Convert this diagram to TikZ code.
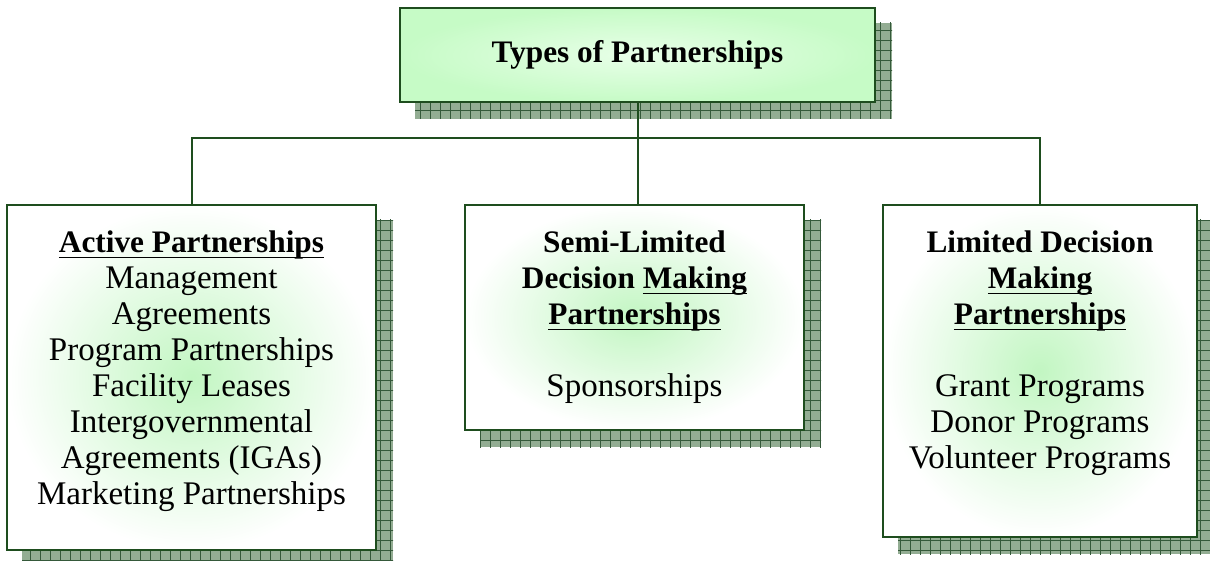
\documentclass[tikz,border=0pt]{standalone}
\usepackage{fontspec}
\setmainfont{Liberation Serif}
\usetikzlibrary{calc, positioning, backgrounds}

\definecolor{box-line}{HTML}{1E4D1E}
\definecolor{shade-fill}{HTML}{93AD93}
\definecolor{shade-grid}{HTML}{35593A}
\definecolor{mint}{HTML}{C2F6C2}
\definecolor{mint-top}{HTML}{C6FBC6}
\definecolor{mint-light}{HTML}{E8FFE8}

\newcommand{\undl}[1]{\leavevmode\setbox0\hbox{#1}\rlap{\rule[-5pt]{\wd0}{1.4pt}}\box0}
\newcommand{\hd}[1]{\leavevmode{\fontsize{31.3}{36}\selectfont\bfseries #1}}
\newcommand{\boxtext}[3]{\parbox[t][#2][t]{#1}{\centering\fontsize{33}{36}\selectfont\rule{0pt}{48pt}#3}}

\tikzset{
  tier/.style={draw=box-line, line width=2pt, inner sep=0pt, shading=radial,
    inner color=mint, outer color=white},
  head/.style={tier, inner color=mint-light, outer color=mint-top,
    minimum width=475pt, minimum height=94pt, font=\fontsize{31.3}{36}\selectfont\bfseries},
  link/.style={draw=box-line, line width=2pt},
}

\newcommand{\gridshade}[1]{
  \begin{scope}
    \clip ($(#1.north west)+(16,16)$) rectangle ($(#1.south east)+(16,16)$);
    \fill[shade-fill] ($(#1.north west)+(16,16)$) rectangle ($(#1.south east)+(16,16)$);
    \draw[shade-grid, line width=0.7pt, step=10pt] ($(#1.north west)+(10,10)$) grid ($(#1.south east)+(20,20)$);
  \end{scope}
}

\begin{document}
\begin{tikzpicture}[x=1pt, y=-1pt]

  \useasboundingbox (0, 0) rectangle (1210, 561);

  % draw boxes
  \node[head] (types) at (637.5, 55) {Types of Partnerships};

  \node[tier] (active) at (191.5, 377.5) {\boxtext{369pt}{345pt}{%
      \hd{\undl{Active Partnerships}}\\
      Management\\
      Agreements\\
      Program Partnerships\\
      Facility Leases\\
      Intergovernmental\\
      Agreements (IGAs)\\
      Marketing Partnerships}};

  \node[tier] (semi) at (634.5, 317.5) {\boxtext{339pt}{225pt}{%
      \hd{Semi-Limited}\\
      \hd{Decision \undl{Making}}\\
      \hd{\undl{Partnerships}}\\[36pt]
      Sponsorships}};

  \node[tier] (limited) at (1040, 371) {\boxtext{314pt}{332pt}{%
      \hd{Limited Decision}\\
      \hd{\undl{Making}}\\
      \hd{\undl{Partnerships}}\\[36pt]
      Grant Programs\\
      Donor Programs\\
      Volunteer Programs}};

  % shadows behind boxes
  \begin{scope}[on background layer]
    \gridshade{types}
    \gridshade{active}
    \gridshade{semi}
    \gridshade{limited}
  \end{scope}

  % connectors
  \coordinate (bus) at (637, 138);
  \draw[link] (active.north) |- (bus) -| (limited.north);
  \draw[link] (types.south) to (types.south |- semi.north);

\end{tikzpicture}
\end{document}
